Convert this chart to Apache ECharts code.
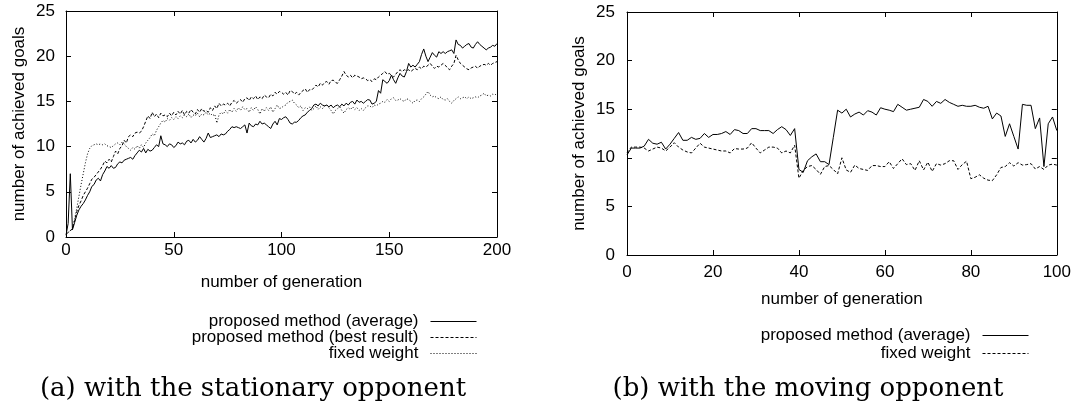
<!DOCTYPE html>
<html><head><meta charset="utf-8">
<script src="https://cdn.jsdelivr.net/npm/echarts@6/dist/echarts.min.js"></script>
<style>html,body{margin:0;padding:0;background:#fff}#c{width:1074px;height:407px}</style>
</head><body><div id="c"></div>
<script>
// (a) stationary opponent, generations 0..200
const avgA = [
0.2,1.5,7.0,0.8,1.6,2.4,3.0,3.4,3.7,4.1,
4.6,5.0,5.6,5.8,6.3,6.5,6.2,6.9,7.3,7.8,
7.6,7.9,7.6,7.7,8.1,8.3,8.2,8.5,8.6,8.7,
8.8,8.6,9.0,9.3,9.6,9.4,9.8,9.3,9.7,9.5,
9.6,9.9,10.2,10.0,11.2,10.3,10.2,10.0,10.3,10.2,
9.9,10.1,10.5,10.3,10.4,10.2,10.6,10.7,10.4,10.8,
10.5,10.7,11.1,10.8,10.5,10.9,11.5,11.0,11.1,11.2,
11.3,11.1,11.4,11.3,11.4,11.7,11.9,12.2,12.1,12.2,
12.1,12.0,12.2,12.4,11.5,12.6,12.3,12.2,12.5,12.4,
12.8,12.5,12.6,12.4,12.2,12.0,12.5,12.8,12.4,13.1,
13.0,13.2,13.3,13.0,12.6,12.5,12.7,12.7,12.9,13.2,
13.4,13.5,13.8,14.0,14.2,14.6,14.7,14.5,14.8,14.6,
14.5,14.6,14.4,14.6,14.3,14.5,14.6,14.4,14.7,14.5,
14.8,14.6,14.9,15.0,14.7,15.15,14.9,15.0,14.8,15.0,
15.2,15.15,14.7,14.8,15.0,16.2,15.9,17.4,17.2,17.0,
17.3,17.9,17.4,17.0,17.6,18.1,17.8,17.7,18.3,19.2,
18.8,19.0,18.8,19.1,19.4,20.2,20.8,20.0,19.4,19.9,
20.4,20.1,19.9,20.5,20.3,20.5,20.3,20.5,20.6,20.7,
20.3,21.8,21.3,21.2,20.9,21.1,21.3,21.4,21.0,20.9,
21.3,21.6,21.3,21.1,20.9,20.7,20.9,21.0,21.2,21.1,
21.4];
const bestA = [
0.3,0.5,0.7,0.9,1.8,2.8,3.5,4.0,4.6,5.0,
5.4,5.9,6.4,6.6,6.9,7.2,7.5,7.9,8.4,8.2,
8.6,8.3,8.9,9.5,9.2,9.8,10.1,10.7,10.4,11.1,
11.3,11.1,11.5,11.6,11.5,11.7,12.2,12.8,13.4,13.1,
13.8,13.3,13.6,13.2,13.7,13.4,13.5,13.3,13.7,13.4,
13.8,13.5,13.9,13.6,14.0,13.5,13.9,13.7,14.1,13.8,
13.6,14.1,13.8,14.2,13.9,14.0,13.8,14.3,14.0,14.5,
14.2,14.8,14.5,14.7,14.6,14.8,14.5,14.9,15.1,14.8,
15.0,15.2,14.9,15.3,15.4,15.1,15.5,15.3,15.6,15.2,
15.5,15.3,15.7,15.5,15.4,15.8,15.6,16.0,15.8,16.1,
16.0,15.8,16.0,15.7,16.2,16.1,15.8,16.0,15.7,16.0,
16.2,16.4,16.0,16.3,16.25,16.5,16.8,16.6,17.0,16.8,
17.1,17.2,16.9,17.3,17.35,17.1,17.0,17.4,17.8,18.3,
17.9,17.7,17.9,17.6,17.9,17.8,17.7,17.5,17.6,17.5,
17.3,17.4,17.2,17.5,17.4,17.7,17.9,18.1,18.3,18.0,
18.1,17.9,17.7,18.0,18.3,18.5,18.3,18.5,18.4,18.5,
18.3,18.5,18.65,18.5,18.8,18.6,18.9,18.8,19.0,19.2,
18.9,18.65,18.9,18.8,19.0,19.2,19.0,18.7,18.5,18.9,
19.2,20.1,19.6,19.2,19.0,18.8,18.6,18.5,18.7,18.8,
18.9,18.65,18.9,19.0,19.1,19.0,19.2,19.0,19.2,19.3,
19.4];
const fixedA = [
0.3,0.5,0.7,1.0,2.0,3.2,4.5,5.8,7.0,8.2,
9.2,9.8,10.1,10.2,10.3,10.2,10.3,10.2,10.3,10.1,
10.0,9.9,10.1,10.3,10.4,10.2,10.5,10.3,10.0,9.8,
9.6,9.9,9.7,10.1,9.8,10.2,9.9,10.4,10.7,11.0,
11.4,11.2,11.8,12.2,12.6,12.9,12.7,13.1,12.9,13.2,
13.0,13.3,13.1,13.4,13.2,13.5,13.3,13.6,13.2,13.5,
13.4,13.7,13.3,13.6,13.5,13.8,13.5,13.7,13.4,13.6,
12.6,13.5,13.8,13.6,14.0,13.7,14.1,13.8,14.2,13.9,
14.3,14.0,14.4,14.1,14.2,13.8,14.3,14.0,14.4,14.1,
13.6,14.2,13.9,14.3,14.0,14.4,13.8,14.2,14.6,14.2,
14.3,14.5,14.6,14.9,15.0,15.15,14.8,14.6,14.3,14.5,
14.0,14.3,14.2,14.4,14.0,14.2,14.5,14.1,14.4,14.2,
14.5,14.6,14.3,14.0,13.6,14.0,14.2,14.4,14.0,13.7,
14.1,14.3,14.1,14.4,14.1,14.3,14.0,14.2,14.0,14.3,
14.5,14.5,14.3,14.6,14.5,14.7,14.8,15.0,14.9,15.2,
15.0,15.3,15.4,15.1,15.15,15.3,15.1,15.0,15.3,15.2,
15.0,14.8,15.1,15.15,15.0,15.3,15.5,15.8,16.1,15.7,
15.5,15.6,15.4,15.3,15.5,15.2,15.15,15.3,15.0,14.8,
15.1,15.3,15.5,15.3,15.4,15.5,15.3,15.5,15.3,15.4,
15.5,15.4,15.6,15.7,15.9,15.6,15.7,15.6,15.8,15.7,
15.9];
// (b) moving opponent, generations 0..100
const avgB = [
10.3,11.0,11.0,11.0,11.2,11.9,11.5,11.4,11.6,10.9,
11.4,12.0,12.6,11.8,11.8,12.1,11.9,12.0,12.5,12.1,
12.4,12.4,12.5,12.7,12.4,12.9,12.8,12.5,12.5,13.0,
13.0,12.8,12.8,12.8,12.5,12.9,13.2,12.9,12.3,13.0,
8.8,8.5,9.7,10.1,10.4,9.6,9.6,9.3,12.1,14.9,
14.6,15.0,14.2,14.5,14.7,14.4,14.85,14.7,14.4,15.15,
15.0,14.9,14.75,15.5,15.2,14.9,15.0,15.1,15.2,16.0,
15.8,15.3,15.8,15.6,16.0,15.7,15.5,15.3,15.4,15.3,
15.3,15.4,15.2,15.1,15.3,14.0,14.6,14.3,12.2,13.5,
12.2,10.9,15.5,15.4,15.4,13.0,14.1,9.1,13.5,14.2,
12.8];
const fixedB = [
10.5,11.1,11.1,11.1,11.0,10.7,10.9,11.1,11.0,10.7,
11.1,11.55,11.1,10.8,10.6,10.5,11.0,11.5,11.1,11.0,
10.9,10.8,10.7,10.7,10.5,10.95,10.9,10.9,11.0,11.55,
11.0,10.5,10.8,11.1,11.1,11.0,10.5,10.7,10.5,11.3,
7.9,8.7,9.1,9.2,8.8,8.3,9.1,9.2,8.8,8.35,
10.0,8.75,8.5,9.25,8.9,8.8,8.7,9.2,9.2,9.1,
9.1,9.6,8.9,9.4,9.9,9.3,9.4,8.7,9.7,8.75,
9.55,8.6,9.4,9.25,9.4,9.7,9.7,8.8,9.3,9.65,
7.85,8.0,8.25,7.9,7.7,7.65,8.25,9.0,9.1,9.5,
9.15,9.5,9.25,9.3,9.4,8.85,9.1,8.8,9.25,9.35,
9.25];

const xTicksA = {min:0, max:200, interval:50};
const xTicksB = {min:0, max:100, interval:20};
const yTicks = {min:0, max:25, interval:5};

const namesA = ['proposed method (average)','proposed method (best result)','fixed weight'];
const namesB = ['proposed method (average)','fixed weight'];
const xTitle = 'number of generation';
const yTitle = 'number of achieved goals';
const captionA = '(a) with the stationary opponent';
const captionB = '(b) with the moving opponent';

const FONT = '"Liberation Sans", Arial, sans-serif';
const FS = 17;
const black = '#000';

function xy(arr){ return arr.map((v,i)=>[i,v]); }

function xAx(grid, ticks, main, gap, margin){
  return Object.assign({
    gridIndex: grid, type:'value', position: main ? 'bottom' : 'top',
    name: main ? xTitle : '', nameLocation:'middle', nameGap: gap,
    nameTextStyle:{color:black, fontFamily:FONT, fontSize:FS},
    axisLine:{show:true, onZero:false, lineStyle:{color:black, width:1}},
    axisTick:{show:true, inside:true, length:5, lineStyle:{color:black}},
    axisLabel:{show: main, margin: margin, color:black, fontFamily:FONT, fontSize:FS},
    splitLine:{show:false}
  }, ticks);
}
function yAx(grid, main, gap, margin){
  return Object.assign({
    gridIndex: grid, type:'value', position: main ? 'left' : 'right',
    name: main ? yTitle : '', nameLocation:'middle', nameGap: gap, nameRotate: 90,
    nameTextStyle:{color:black, fontFamily:FONT, fontSize:FS},
    axisLine:{show:true, onZero:false, lineStyle:{color:black, width:1}},
    axisTick:{show:true, inside:true, length:5, lineStyle:{color:black}},
    axisLabel:{show: main, margin: margin, color:black, fontFamily:FONT, fontSize:FS},
    splitLine:{show:false}
  }, yTicks);
}
function ser(name, data, xi, yi, type){
  return {name:name, type:'line', data: xy(data), xAxisIndex:xi, yAxisIndex:yi,
    symbol:'none', showSymbol:false, animation:false, silent:true,
    lineStyle:{color:black, width:1, type:type}, itemStyle:{color:black}};
}
function leg(name, right, top){
  return {data:[name], right:right, top:top, orient:'vertical', align:'right',
    padding:0, itemWidth:46, itemHeight:10, selectedMode:false,
    itemStyle:{opacity:0, borderWidth:0},
    lineStyle:{width:1},
    formatter: n => n.replace(/ \[b\]$/, ''),
    textStyle:{color:black, fontFamily:FONT, fontSize:FS, padding:[0,7,0,0]}};
}

const chart = echarts.init(document.getElementById('c'));
chart.setOption({
  animation:false,
  backgroundColor:'#fff',
  grid:[
    {left:66, top:11, width:431, height:226, containLabel:false},
    {left:627, top:12, width:430, height:243, containLabel:false}
  ],
  xAxis:[ xAx(0, xTicksA, true, 37, 5), xAx(0, xTicksA, false, 0, 0),
          xAx(1, xTicksB, true, 36, 9), xAx(1, xTicksB, false, 0, 0) ],
  yAxis:[ yAx(0, true, 38, 11), yAx(0, false, 0, 0),
          yAx(1, true, 39, 12), yAx(1, false, 0, 0) ],
  legend:[
    leg(namesA[0], 597, 313),
    leg(namesA[1], 597, 329),
    leg(namesA[2], 597, 345),
    leg(namesB[0] + ' [b]', 45, 327),
    leg(namesB[1] + ' [b]', 45, 345)
  ],
  series:[
    ser(namesA[0], avgA, 0, 0, 'solid'),
    ser(namesA[1], bestA, 0, 0, [3,2]),
    ser(namesA[2], fixedA, 0, 0, [1,2]),
    ser(namesB[0] + ' [b]', avgB, 2, 2, 'solid'),
    ser(namesB[1] + ' [b]', fixedB, 2, 2, [3,2])
  ],
  graphic:[
    {type:'text', x:253, y:389, silent:true, style:{text:captionA, fill:black,
      font:'26px "DejaVu Serif", serif', textAlign:'center', textVerticalAlign:'middle'}},
    {type:'text', x:808, y:389, silent:true, style:{text:captionB, fill:black,
      font:'26px "DejaVu Serif", serif', textAlign:'center', textVerticalAlign:'middle'}}
  ]
});
</script></body></html>
